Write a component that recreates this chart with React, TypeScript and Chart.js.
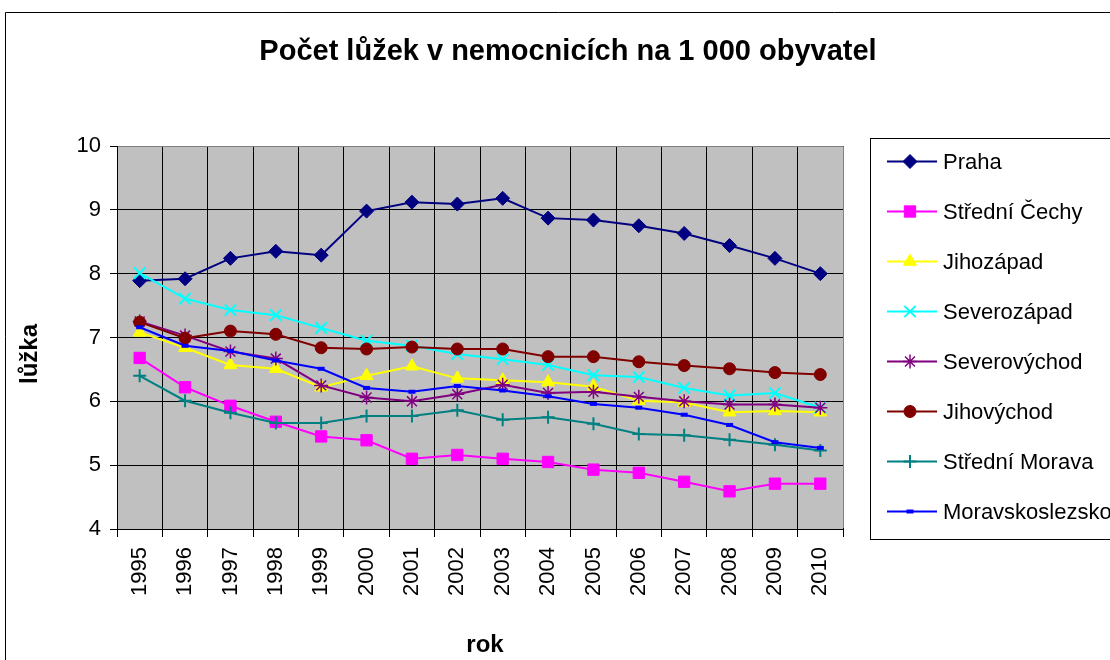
import React, { useEffect, useRef } from 'react';
import { Chart, registerables } from 'chart.js';
import { drawPoint } from 'chart.js/helpers';

Chart.register(...registerables);

const years = ['1995', '1996', '1997', '1998', '1999', '2000', '2001', '2002', '2003', '2004', '2005', '2006', '2007', '2008', '2009', '2010'];

const praha = [7.89, 7.92, 8.24, 8.35, 8.29, 8.98, 9.12, 9.09, 9.18, 8.87, 8.84, 8.75, 8.63, 8.44, 8.24, 8.0];
const stredniCechy = [6.68, 6.22, 5.93, 5.68, 5.45, 5.39, 5.1, 5.16, 5.1, 5.05, 4.93, 4.88, 4.74, 4.59, 4.71, 4.71];
const jihozapad = [7.08, 6.84, 6.57, 6.51, 6.22, 6.4, 6.55, 6.36, 6.33, 6.3, 6.23, 6.01, 5.98, 5.83, 5.85, 5.83];
const severozapad = [8.01, 7.61, 7.43, 7.35, 7.15, 6.95, 6.87, 6.74, 6.66, 6.57, 6.41, 6.38, 6.21, 6.09, 6.13, 5.9];
const severovychod = [7.25, 7.03, 6.78, 6.67, 6.25, 6.06, 6.0, 6.11, 6.26, 6.13, 6.15, 6.07, 6.0, 5.95, 5.95, 5.9];
const jihovychod = [7.24, 6.99, 7.1, 7.05, 6.84, 6.82, 6.85, 6.82, 6.82, 6.7, 6.7, 6.62, 6.56, 6.51, 6.45, 6.42];
const stredniMorava = [6.4, 6.01, 5.82, 5.66, 5.66, 5.77, 5.77, 5.86, 5.71, 5.75, 5.65, 5.49, 5.47, 5.4, 5.32, 5.23];
const moravskoslezsko = [7.16, 6.87, 6.79, 6.64, 6.51, 6.21, 6.15, 6.24, 6.17, 6.08, 5.96, 5.9, 5.79, 5.63, 5.36, 5.27];

const seriesNames = ['Praha', 'Střední Čechy', 'Jihozápad', 'Severozápad', 'Severovýchod', 'Jihovýchod', 'Střední Morava', 'Moravskoslezsko'];
const seriesValues = [praha, stredniCechy, jihozapad, severozapad, severovychod, jihovychod, stredniMorava, moravskoslezsko];
const seriesColors = ['#000080', '#FF00FF', '#FFFF00', '#00FFFF', '#800080', '#800000', '#008080', '#0000FF'];
const seriesPointStyles = ['rectRot', 'rect', 'triangle', 'crossRot', 'star', 'circle', 'cross', 'line'];
const seriesPointRadius = [7, 8, 7.5, 8, 7, 6, 6.5, 3.5];
const seriesPointBorder = [1, 1, 1, 2, 1.5, 1, 2, 4];

const titleText = 'Počet lůžek v nemocnicích na 1 000 obyvatel';
const xTitle = 'rok';
const yTitle = 'lůžka';
const yMin = 4;
const yMax = 10;
const yStep = 1;

const FONT = '"Liberation Sans", Arial, sans-serif';

function drawText(ctx: CanvasRenderingContext2D, text: string, x: number, y: number, rot: number, align: CanvasTextAlign) {
  ctx.save();
  ctx.translate(x, y);
  ctx.rotate(rot);
  ctx.textAlign = align;
  ctx.textBaseline = 'alphabetic';
  ctx.fillText(text, 0, 0);
  ctx.restore();
}

const decorPlugin = {
  id: 'decor',
  beforeDraw(chart: any) {
    const ctx = chart.ctx as CanvasRenderingContext2D;
    const { left, top, right, bottom } = chart.chartArea;
    ctx.save();
    ctx.fillStyle = '#FFFFFF';
    ctx.fillRect(0, 0, chart.width, chart.height);
    ctx.strokeStyle = '#000000';
    ctx.lineWidth = 1;
    ctx.beginPath();
    ctx.moveTo(5.5, chart.height + 5);
    ctx.lineTo(5.5, 12.5);
    ctx.lineTo(chart.width + 5, 12.5);
    ctx.stroke();
    ctx.fillStyle = '#C0C0C0';
    ctx.fillRect(left, top, right - left, bottom - top);
    ctx.restore();
  },
  beforeDatasetsDraw(chart: any) {
    const ctx = chart.ctx as CanvasRenderingContext2D;
    const { left, top, right, bottom } = chart.chartArea;
    ctx.save();
    ctx.strokeStyle = '#808080';
    ctx.lineWidth = 1;
    ctx.beginPath();
    ctx.moveTo(left + 1, Math.round(top) + 0.5);
    ctx.lineTo(Math.round(right) + 0.5, Math.round(top) + 0.5);
    ctx.lineTo(Math.round(right) + 0.5, bottom - 1);
    ctx.stroke();
    ctx.restore();
  },
  afterDraw(chart: any) {
    const ctx = chart.ctx as CanvasRenderingContext2D;
    ctx.save();
    ctx.fillStyle = '#000000';
    ctx.font = `bold 29px ${FONT}`;
    drawText(ctx, titleText, 568, 60, 0, 'center');
    ctx.font = `bold 24px ${FONT}`;
    drawText(ctx, xTitle, 485, 652, 0, 'center');
    drawText(ctx, yTitle, 37, 384, -Math.PI / 2, 'left');

    ctx.strokeStyle = '#000000';
    ctx.lineWidth = 1;
    ctx.strokeRect(870.5, 138.5, 400, 401);
    ctx.font = `22px ${FONT}`;
    ctx.textAlign = 'left';
    ctx.textBaseline = 'middle';
    seriesNames.forEach((name, i) => {
      const y = 161.5 + i * 50;
      ctx.strokeStyle = seriesColors[i];
      ctx.fillStyle = seriesColors[i];
      ctx.lineWidth = 2;
      ctx.beginPath();
      ctx.moveTo(887, y);
      ctx.lineTo(937, y);
      ctx.stroke();
      ctx.lineWidth = seriesPointBorder[i];
      drawPoint(ctx, { pointStyle: seriesPointStyles[i], rotation: 0, radius: seriesPointRadius[i], borderWidth: seriesPointBorder[i] } as any, 910, y);
      ctx.fillStyle = '#000000';
      ctx.fillText(name, 943, y + 1);
    });
    ctx.restore();
  },
};

export default function App() {
  const canvasRef = useRef<HTMLCanvasElement | null>(null);

  useEffect(() => {
    const canvas = canvasRef.current;
    if (!canvas) return;
    const n = seriesNames.length;
    const chart = new Chart(canvas, {
      type: 'line',
      data: {
        labels: years,
        datasets: seriesNames.map((name, i) => ({
          label: name,
          data: seriesValues[i],
          borderColor: seriesColors[i],
          backgroundColor: seriesColors[i],
          borderWidth: 2,
          pointStyle: seriesPointStyles[i] as any,
          pointRadius: seriesPointRadius[i],
          pointBorderWidth: seriesPointBorder[i],
          pointBackgroundColor: seriesColors[i],
          pointBorderColor: seriesColors[i],
          tension: 0,
          fill: false,
          order: n - 1 - i,
        })),
      },
      options: {
        responsive: false,
        devicePixelRatio: 1,
        animation: false,
        layout: { padding: { left: 0, top: 146, right: 267, bottom: 0 } },
        plugins: {
          legend: { display: false },
          title: { display: false },
          tooltip: { enabled: false },
        },
        scales: {
          x: {
            offset: true,
            grid: { offset: true, color: '#000000', lineWidth: 1, tickLength: 8, drawOnChartArea: true },
            border: { color: '#000000', width: 1 },
            ticks: { minRotation: 90, maxRotation: 90, autoSkip: false, color: '#000000', padding: 10, font: { size: 22, family: FONT } },
            afterFit: (s: any) => { s.height = 131; },
          },
          y: {
            min: yMin,
            max: yMax,
            grid: { color: '#000000', lineWidth: 1, tickLength: 7 },
            border: { color: '#000000', width: 1 },
            ticks: { stepSize: yStep, color: '#000000', padding: 9, font: { size: 22, family: FONT } },
            afterFit: (s: any) => { s.width = 117; },
          },
        },
      },
      plugins: [decorPlugin],
    });
    return () => chart.destroy();
  }, []);

  return (
    <div style={{ position: 'fixed', left: 0, top: 0, width: 1110, height: 660, background: '#fff' }}>
      <canvas ref={canvasRef} width={1110} height={660} style={{ width: 1110, height: 660, display: 'block' }} />
    </div>
  );
}
